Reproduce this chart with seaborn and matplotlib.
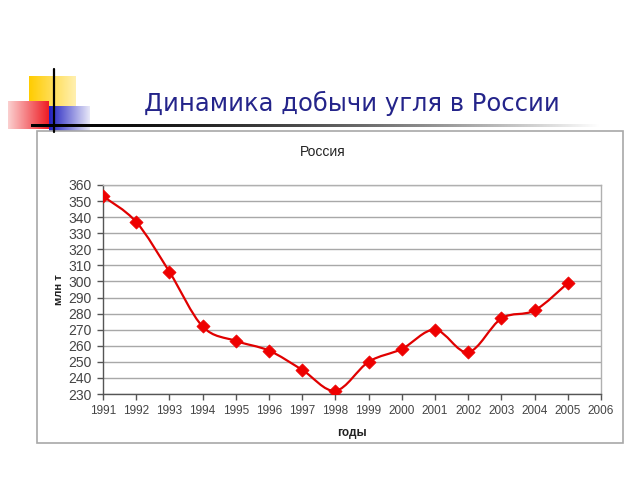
import numpy as np
import pandas as pd
import matplotlib
matplotlib.use("Agg")
import matplotlib.pyplot as plt
from matplotlib.path import Path
from matplotlib.patches import PathPatch, Rectangle
import seaborn as sns

years = [1991, 1992, 1993, 1994, 1995, 1996, 1997, 1998, 1999, 2000, 2001, 2002, 2003, 2004, 2005]
coal = [353, 337, 306, 272, 263, 257, 245, 232, 250, 258, 270, 256, 277, 282, 299]
x_ticks = list(range(1991, 2007))
y_ticks = list(range(230, 361, 10))

slide_title = "Динамика добычи угля в России"
chart_title = "Россия"
x_label = "годы"
y_label = "млн т"

df = pd.DataFrame({"year": years, "coal": coal})

sns.set_theme(style="white")
plt.rcParams["font.family"] = ["Liberation Sans", "DejaVu Sans"]

fig = plt.figure(figsize=(6.4, 4.8), dpi=100)

# slide decorations (pixel space)
deco = fig.add_axes([0, 0, 1, 1], zorder=0)
deco.axis("off")

def grad(ax, x0, x1, y0, y1, c_from, c_to, power=1.0):
    t = np.linspace(0, 1, 128) ** power
    c_from = np.array(matplotlib.colors.to_rgb(c_from))
    c_to = np.array(matplotlib.colors.to_rgb(c_to))
    cols = c_from[None, :] * (1 - t[:, None]) + c_to[None, :] * t[:, None]
    ax.imshow(cols[None, :, :], extent=[x0, x1, y1, y0], aspect="auto",
              interpolation="bilinear", zorder=1)

grad(deco, 29, 76, 76, 106, "#ffcc00", "#fff0b0")
grad(deco, 8, 49, 101, 129, "#fbd0d0", "#ee1c24")
grad(deco, 49, 90, 106, 132, "#2020c0", "#e8e8f8")
# fading rule under the title
grad(deco, 31, 601, 125, 127.5, "#000000", "#ffffff", power=1.6)
deco.plot([54, 54], [69, 132], color="black", lw=1.6, zorder=3)
deco.set_xlim(0, 640)
deco.set_ylim(480, 0)

deco.add_patch(Rectangle((37, 131), 586, 312, facecolor="white", edgecolor="#a8a8a8", lw=1.2, zorder=2))
deco.text(352, 103, slide_title, fontsize=17.5, color="#24248a", ha="center", va="center",
          family=["DejaVu Sans"], zorder=4)
deco.text(323, 152, chart_title, fontsize=10, color="#222222", ha="center", va="center", zorder=4)

# chart
ax = fig.add_axes([103 / 640, 1 - 394 / 480, (601 - 103) / 640, (394 - 185) / 480], zorder=5)
ax.set_facecolor("white")

# smoothed line like the spreadsheet's curve
px = np.array(years, dtype=float)
py = np.array(coal, dtype=float)
verts = [(px[0], py[0])]
codes = [Path.MOVETO]
n = len(px)
for i in range(n - 1):
    p0 = np.array([px[max(i - 1, 0)], py[max(i - 1, 0)]])
    p1 = np.array([px[i], py[i]])
    p2 = np.array([px[i + 1], py[i + 1]])
    p3 = np.array([px[min(i + 2, n - 1)], py[min(i + 2, n - 1)]])
    c1 = p1 + (p2 - p0) / 6
    c2 = p2 - (p3 - p1) / 6
    verts += [tuple(c1), tuple(c2), tuple(p2)]
    codes += [Path.CURVE4] * 3
ax.add_patch(PathPatch(Path(verts, codes), facecolor="none", edgecolor="#e00000", lw=1.6, zorder=3))

sns.scatterplot(data=df, x="year", y="coal", marker="D", s=45, color="#ee0000",
                edgecolor="#ee0000", linewidth=0.5, ax=ax, zorder=4, legend=False)

ax.set_xlim(1991, 2006)
ax.set_ylim(230, 360)
ax.set_xticks(x_ticks)
ax.set_yticks(y_ticks)
ax.set_xticklabels([str(v) for v in x_ticks], fontsize=8.5, color="#444444")
ax.set_yticklabels([str(v) for v in y_ticks], fontsize=10, color="#444444")
ax.yaxis.grid(True, color="#a8a8a8", lw=1)
ax.xaxis.grid(False)
for side in ["top", "right"]:
    ax.spines[side].set_color("#b0b0b0")
    ax.spines[side].set_linewidth(1)
for side in ["left", "bottom"]:
    ax.spines[side].set_color("#555555")
    ax.spines[side].set_linewidth(1)
ax.tick_params(axis="both", which="major", length=4, width=1, color="#555555", direction="out",
               left=True, bottom=True, pad=4)
ax.set_xlabel(x_label, fontsize=8.5, fontweight="bold", color="#222222", labelpad=7)
ax.set_ylabel(y_label, fontsize=8, fontweight="bold", color="#222222", labelpad=3)

fig.savefig("out.png", dpi=100)
